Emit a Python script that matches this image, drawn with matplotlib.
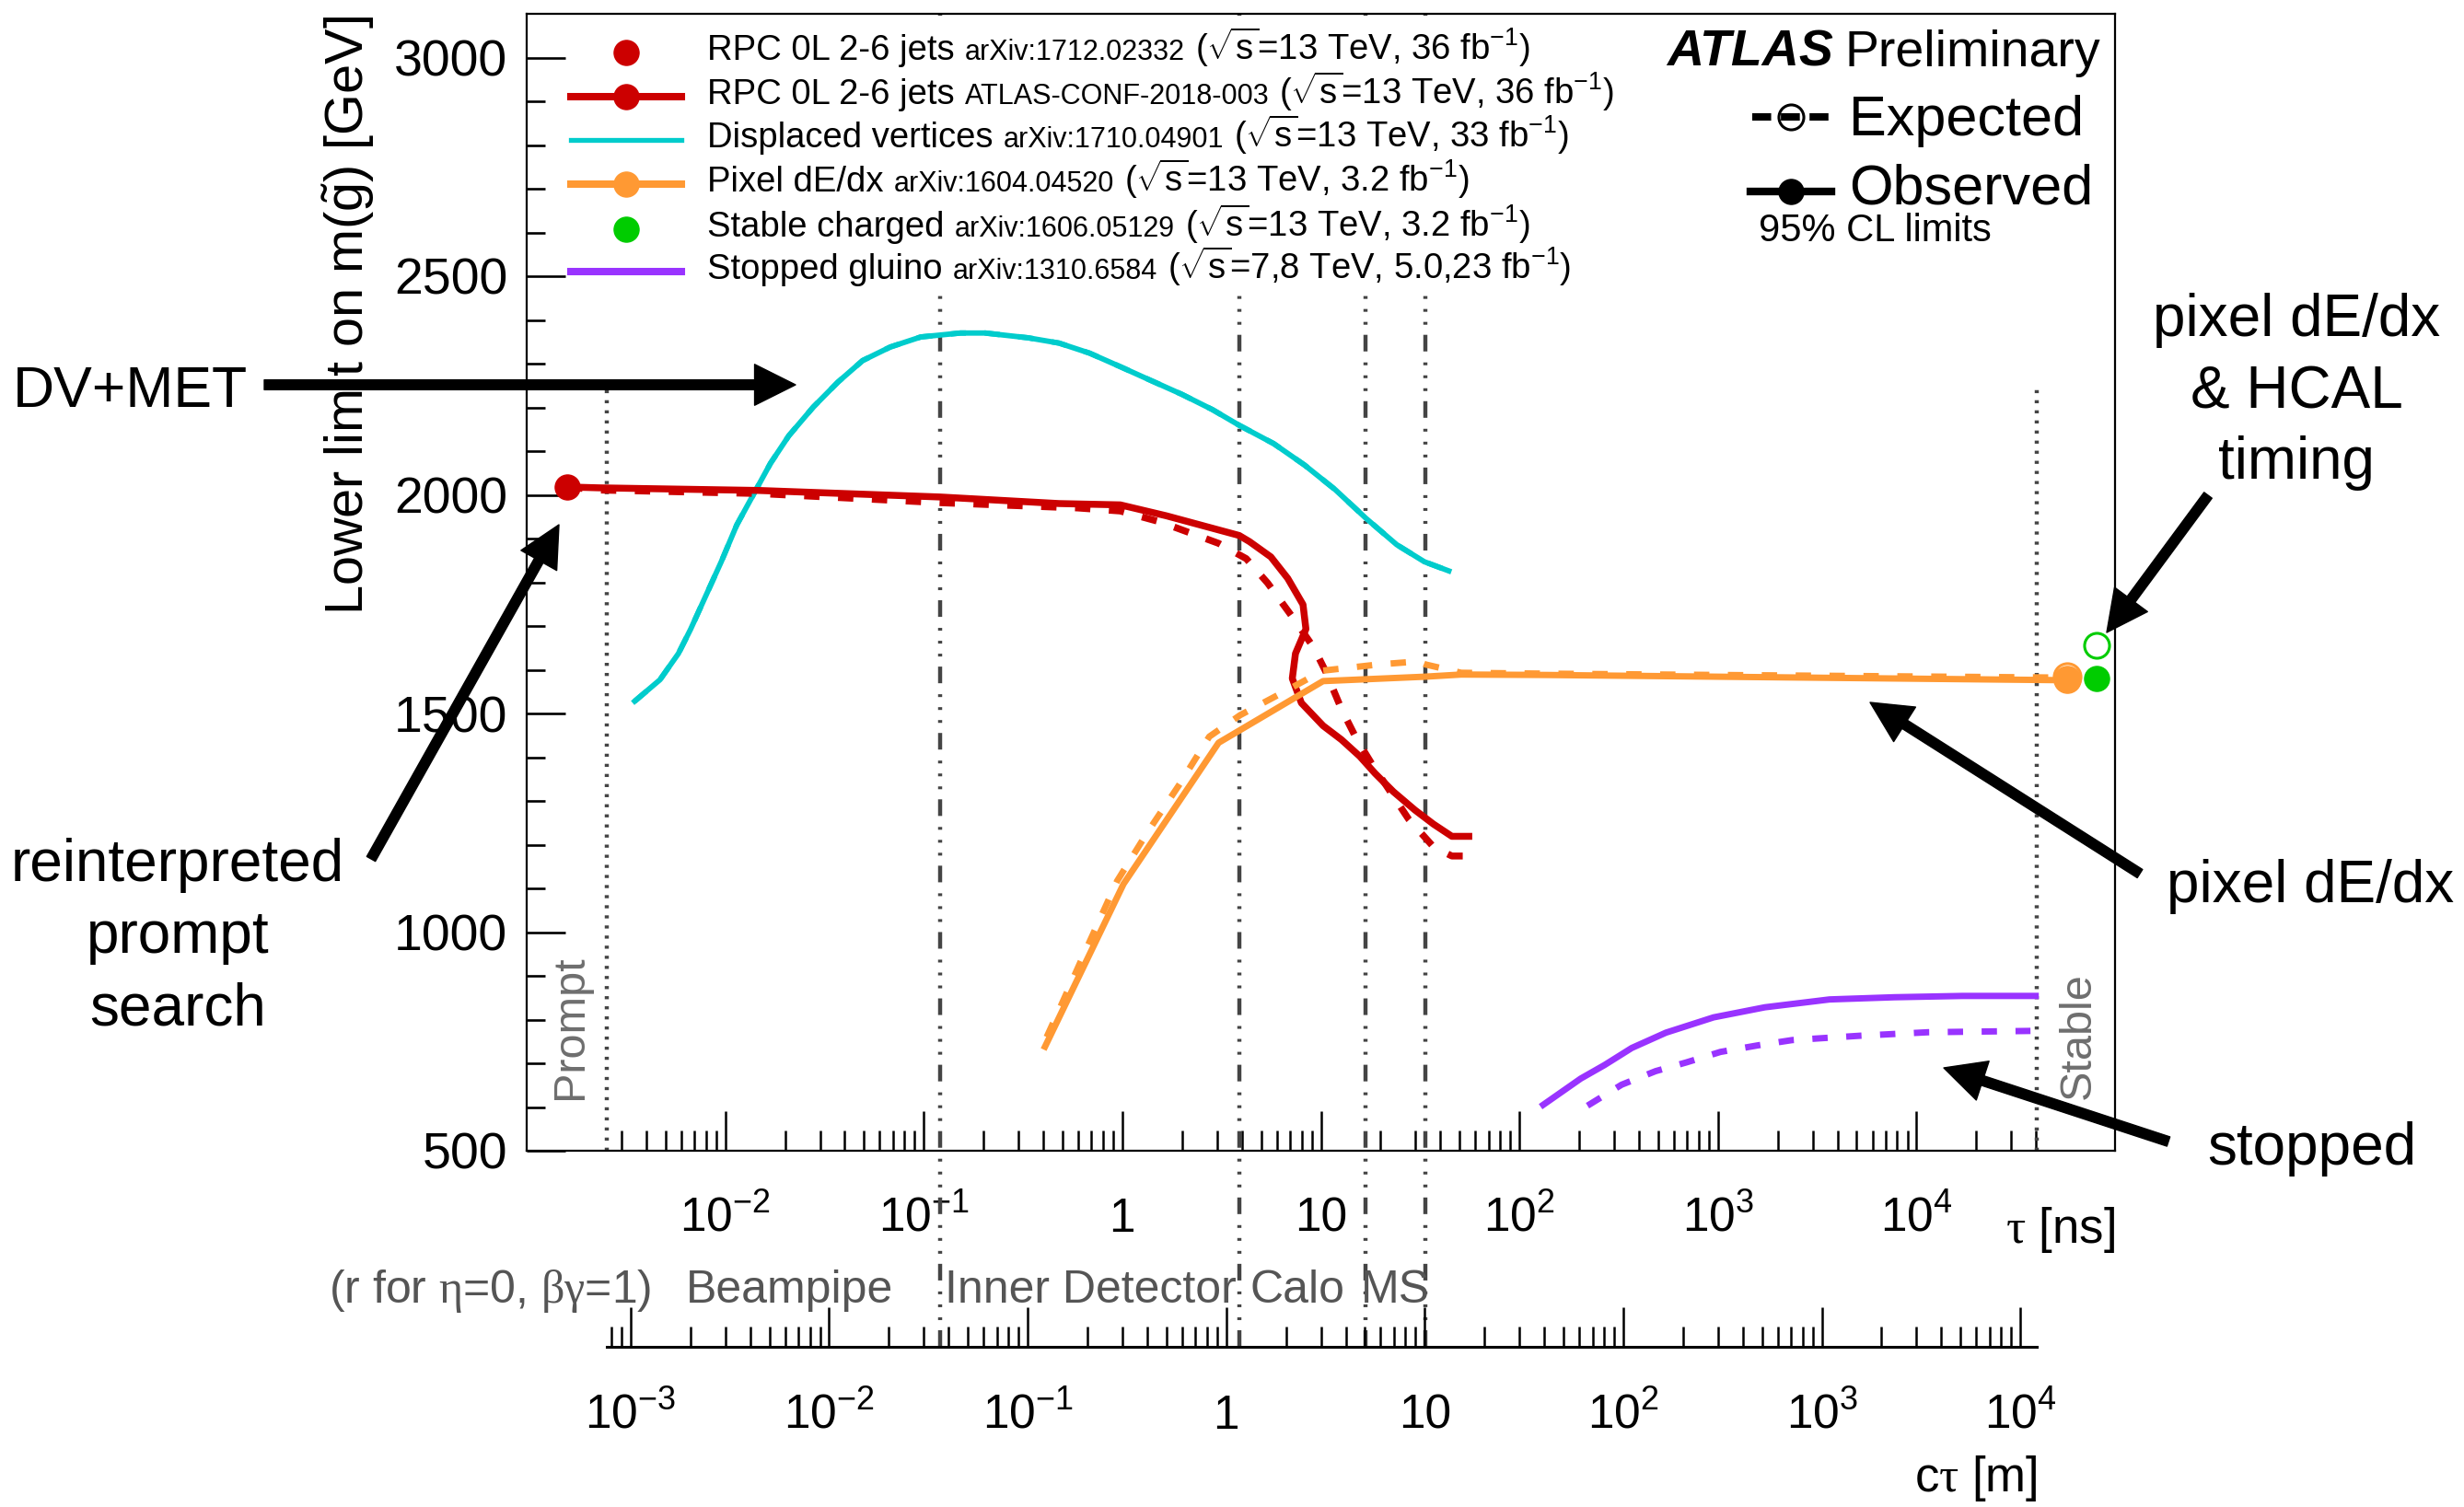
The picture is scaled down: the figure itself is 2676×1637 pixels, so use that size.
import numpy as np
import matplotlib
matplotlib.use("Agg")
import matplotlib.pyplot as plt
from matplotlib.patches import FancyArrowPatch, Rectangle
from matplotlib.lines import Line2D
from matplotlib.ticker import NullFormatter

plt.rcParams["font.family"] = ["Liberation Sans", "DejaVu Sans"]
plt.rcParams["mathtext.fontset"] = "custom"
plt.rcParams["mathtext.rm"] = "Liberation Sans"
plt.rcParams["mathtext.it"] = "Liberation Serif"   # greek letters, ROOT Symbol look
plt.rcParams["mathtext.bf"] = "Liberation Sans:bold"
plt.rcParams["lines.scale_dashes"] = False

W, H = 2676, 1637
CLIGHT = 0.29979  # m per ns

# ---------------- data: tau [ns], mass [GeV] ----------------
rpc_prompt_tau = [0.0016]
rpc_prompt_mass = [2018]

rpc_obs_tau = [0.0016, 0.0023, 0.0147, 0.121, 0.480, 0.977, 1.667, 3.88, 4.37, 5.60,
               6.81, 8.13, 8.41, 7.45, 7.18, 7.98, 10.26, 12.7, 15.7, 18.75,
               23.2, 29.8, 36.9, 45.7, 55.6]
rpc_obs_mass = [2018, 2016, 2010, 1995, 1980, 1977, 1952, 1907, 1893, 1858,
                1809, 1749, 1693, 1637, 1580, 1524, 1472, 1440, 1402, 1363,
                1321, 1279, 1247, 1219, 1219]
rpc_exp_tau = [0.0016, 0.0023, 0.0147, 0.121, 0.594, 0.977, 1.552, 3.055, 4.21, 5.40,
               7.18, 9.20, 10.6, 12.7, 15.2, 18.1, 22.4, 27.7, 36.9, 45.7, 55.6]
rpc_exp_mass = [2018, 2011, 2003, 1982, 1970, 1963, 1938, 1889, 1854, 1798,
                1721, 1651, 1595, 1510, 1440, 1384, 1321, 1258, 1195, 1174, 1174]

dv_tau = [0.00350, 0.00469, 0.00581, 0.00670, 0.00800, 0.00955, 0.01143, 0.01365,
          0.0169, 0.0209, 0.0278, 0.0370, 0.0492, 0.0678, 0.0966, 0.153, 0.204,
          0.336, 0.480, 0.684, 0.977, 1.40, 1.99, 2.84, 3.88, 5.79, 8.28, 11.8,
          16.9, 24.1, 33.2, 44.1]
dv_mass = [1528, 1577, 1637, 1693, 1770, 1847, 1931, 1995, 2072, 2135, 2201, 2258,
           2307, 2338, 2361, 2370, 2370, 2359, 2347, 2324, 2293, 2261, 2230, 2195,
           2159, 2117, 2068, 2012, 1946, 1886, 1847, 1826]

pix_obs_tau = [0.408, 1.014, 3.055, 10.26, 33.2, 50.9, 137.7, 56230]
pix_obs_mass = [738, 1110, 1433, 1574, 1584, 1589, 1588, 1576]
pix_exp_tau = [0.416, 0.489, 0.661, 0.942, 1.346, 1.923, 2.742, 3.917, 6.68, 10.26,
               19.45, 30.9, 33.7, 50.9, 137.7, 56230]
pix_exp_mass = [760, 830, 963, 1117, 1230, 1335, 1447, 1496, 1552, 1598,
                1612, 1619, 1612, 1593, 1591, 1582]
pix_point_tau = [57500]
pix_point_obs = [1577]
pix_point_exp = [1584]

stable_tau = [80700]
stable_obs = [1580]
stable_exp = [1656]

stop_obs_tau = [131.8, 203.7, 268.5, 368.1, 547.0, 950.6, 1722, 3648, 7727, 17020, 39810]
stop_obs_mass = [605, 665, 696, 735, 770, 805, 828, 846, 851, 854, 854]
stop_exp_tau = [220.3, 327.3, 485.3, 693.4, 1030, 1589, 2360, 5200, 11460, 37500]
stop_exp_mass = [603, 651, 682, 702, 726, 741, 753, 763, 771, 774]

# region boundaries in tau [ns]
prompt_tau = 0.00254
stable_line_tau = 40500
detector_tau = [0.121, 3.89, 16.8, 33.6]

tau_major = [1e-2, 1e-1, 1, 10, 1e2, 1e3, 1e4]
tau_labels = [r"$\mathregular{10^{-2}}$", r"$\mathregular{10^{-1}}$", "1", "10",
              r"$\mathregular{10^{2}}$", r"$\mathregular{10^{3}}$", r"$\mathregular{10^{4}}$"]
ctau_major = [1e-3, 1e-2, 1e-1, 1, 10, 1e2, 1e3, 1e4]
ctau_labels = [r"$\mathregular{10^{-3}}$", r"$\mathregular{10^{-2}}$", r"$\mathregular{10^{-1}}$",
               "1", "10", r"$\mathregular{10^{2}}$", r"$\mathregular{10^{3}}$",
               r"$\mathregular{10^{4}}$"]

legend_rows = [
    ("RPC 0L 2-6 jets", "arXiv:1712.02332", "13 TeV, 36"),
    ("RPC 0L 2-6 jets", "ATLAS-CONF-2018-003", "13 TeV, 36"),
    ("Displaced vertices", "arXiv:1710.04901", "13 TeV, 33"),
    ("Pixel dE/dx", "arXiv:1604.04520", "13 TeV, 3.2"),
    ("Stable charged", "arXiv:1606.05129", "13 TeV, 3.2"),
    ("Stopped gluino", "arXiv:1310.6584", "7,8 TeV, 5.0,23"),
]

RED = "#cc0000"
CYAN = "#00cccc"
ORANGE = "#ff9933"
GREEN = "#00cc00"
PURPLE = "#9933ff"
GREYL = "#444444"

DASH = (0, (12, 14.5))
DETLS = (0, (13, 7.9, 2.2, 7.9, 2.2, 7.9, 2.2, 8.6))
DOTLS = (0, (2.4, 5.5))


def fx(X):
    return X / W


def fy(Y):
    return 1 - Y / H


fig = plt.figure(figsize=(W / 100, H / 100), dpi=100)
renderer = fig.canvas.get_renderer()

ax = fig.add_axes([fx(572), fy(1250), (2297 - 572) / W, (1250 - 15) / H])
ax.set_xscale("log")
ax.set_xlim(1e-3, 1e5)
ax.set_ylim(500, 3100)
for s in ax.spines.values():
    s.set_linewidth(1.6)

# x ticks only between prompt and stable lines
minor = []
for e in range(-3, 5):
    for m in range(2, 10):
        v = m * 10.0 ** e
        if prompt_tau <= v <= stable_line_tau * 1.01:
            minor.append(v)
ax.set_xticks(tau_major, tau_labels)
ax.set_xticks(minor, minor=True)
ax.xaxis.set_minor_formatter(NullFormatter())
ax.tick_params(axis="x", which="major", direction="in", length=31, width=1.8,
               pad=63, labelsize=37, top=False)
ax.tick_params(axis="x", which="minor", direction="in", length=15.5, width=1.8, top=False)
for t in ax.xaxis.get_major_ticks():
    t.label1.set_verticalalignment("baseline")

ax.set_yticks(np.arange(500, 3001, 500))
ax.set_yticks([v for v in np.arange(600, 3100, 100) if v % 500], minor=True)
ax.tick_params(axis="y", which="major", direction="in", length=30, width=1.9,
               pad=15, labelsize=40, right=False)
ax.tick_params(axis="y", which="minor", direction="in", length=14.5, width=1.9, right=False)

# region boundary lines
for t in detector_tau:
    ax.axvline(t, ymin=-0.1725, ymax=1.0, color=GREYL, lw=3.2, ls=DETLS,
               clip_on=False, zorder=2)
for t in (prompt_tau, stable_line_tau):
    ax.axvline(t, ymin=0, ymax=0.6735, color=GREYL, lw=3.2, ls=DOTLS, zorder=2)

# curves
ax.plot(dv_tau, dv_mass, color=CYAN, lw=4.2, zorder=5)
ax.plot(dv_tau, dv_mass, color=CYAN, lw=4.2, ls=DASH, zorder=5)
ax.plot(rpc_obs_tau, rpc_obs_mass, color=RED, lw=5.4, zorder=6)
ax.plot(rpc_exp_tau, rpc_exp_mass, color=RED, lw=5.4, ls=DASH, zorder=6)
ax.plot(pix_obs_tau, pix_obs_mass, color=ORANGE, lw=5.0, zorder=6)
ax.plot(pix_exp_tau, pix_exp_mass, color=ORANGE, lw=5.0, ls=DASH, zorder=6)
ax.plot(stop_obs_tau, stop_obs_mass, color=PURPLE, lw=5.0, zorder=6)
ax.plot(stop_exp_tau, stop_exp_mass, color=PURPLE, lw=5.0, ls=DASH, zorder=6)

ax.plot(rpc_prompt_tau, rpc_prompt_mass, "o", color=RED, ms=19.5, zorder=7)
ax.plot(pix_point_tau, pix_point_obs, "o", color=ORANGE, ms=21, zorder=7)
ax.plot(pix_point_tau, pix_point_exp, "o", mfc="none", mec=ORANGE, mew=2.2, ms=21, zorder=7)
ax.plot(stable_tau, stable_obs, "o", color=GREEN, ms=19.5, zorder=7, clip_on=False)
ax.plot(stable_tau, stable_exp, "o", mfc="none", mec=GREEN, mew=2.2, ms=19.5, zorder=7,
        clip_on=False)

# second axis: c*tau in metres
ax2 = fig.add_axes([fx(572), fy(1463), (2297 - 572) / W, 0.001])
ax2.set_xscale("log")
ax2.set_xlim(1e-3 * CLIGHT, 1e5 * CLIGHT)
ax2.set_yticks([])
ax2.patch.set_visible(False)
for k in ("top", "left", "right"):
    ax2.spines[k].set_visible(False)
ax2.spines["bottom"].set_linewidth(2.2)
ax2.spines["bottom"].set_bounds(prompt_tau * CLIGHT, stable_line_tau * CLIGHT)
minor2 = []
for e in range(-4, 5):
    for m in range(2, 10):
        v = m * 10.0 ** e
        if prompt_tau * CLIGHT <= v <= stable_line_tau * CLIGHT:
            minor2.append(v)
ax2.set_xticks(ctau_major, ctau_labels)
ax2.set_xticks(minor2, minor=True)
ax2.xaxis.set_minor_formatter(NullFormatter())
ax2.tick_params(axis="x", which="major", direction="in", length=31, width=1.8,
                pad=64, labelsize=37)
ax2.tick_params(axis="x", which="minor", direction="in", length=15.5, width=1.8)
for t in ax2.xaxis.get_major_ticks():
    t.label1.set_verticalalignment("baseline")

# axis titles
fig.text(fx(379), fy(17), r"Lower limit on m($\tilde{\mathregular{g}}$) [GeV]",
         rotation=90, ha="center", va="top", fontsize=41.5)
fig.text(fx(2297), fy(1350), r"$\tau$ [ns]", ha="right", va="baseline", fontsize=38)
fig.text(fx(2213), fy(1620), r"c$\tau$ [m]", ha="right", va="baseline", fontsize=38)

GREYT = "#555555"
fig.text(fx(357), fy(1415), r"(r for $\eta$=0, $\beta\gamma$=1)", ha="left",
         va="baseline", fontsize=36, color=GREYT)
for X, s in ((745, "Beampipe"), (1026, "Inner Detector"), (1358, "Calo"), (1478, "MS")):
    fig.text(fx(X), fy(1415), s, ha="left", va="baseline", fontsize=36, color=GREYT)
fig.text(fx(619), fy(1194), "Prompt", rotation=90, ha="center", va="bottom",
         fontsize=35, color="#6e6e6e")
fig.text(fx(2257), fy(1194), "Stable", rotation=90, ha="center", va="bottom",
         fontsize=35, color="#6e6e6e")

# legend (left) with white background
ax.add_patch(Rectangle((fx(616), fy(312)), (1770 - 616) / W, (312 - 17) / H,
                       transform=fig.transFigure, facecolor="white", edgecolor="none",
                       zorder=3, clip_on=False))
row_base = [65, 113, 160, 208, 257, 303]
row_sym = [("marker", RED, 5.8), ("both", RED, 5.8), ("line", CYAN, 3.8),
           ("both", ORANGE, 5.8), ("marker", GREEN, 5.8), ("line", PURPLE, 5.8)]
for (name, ref, lumi), yb, (kind, col, lw) in zip(legend_rows, row_base, row_sym):
    yc = yb - 8.5
    if kind in ("line", "both"):
        ax.add_line(Line2D([fx(620), fx(740)], [fy(yc), fy(yc)], transform=fig.transFigure,
                           color=col, lw=lw, clip_on=False, zorder=4))
    if kind in ("marker", "both"):
        ax.add_line(Line2D([fx(680)], [fy(yc)], transform=fig.transFigure, marker="o",
                           color=col, ms=19.5, ls="none", clip_on=False, zorder=4))
    energy, lum = lumi.rsplit(", ", 1)
    pieces = [(name, 27.5),
              (ref, 22),
              (r"($\sqrt{\mathregular{s}}$=" + energy + ", " + lum +
               r" $\mathregular{fb^{-1}}$)", 27.5)]
    x = 768
    for s, size in pieces:
        t = fig.text(fx(x), fy(yb), s, fontsize=size, ha="left", va="baseline")
        x += t.get_window_extent(renderer).width + 11

# ATLAS label and expected / observed key
tp = fig.text(fx(2281), fy(72), "Preliminary", ha="right", va="baseline", fontsize=40)
wp = tp.get_window_extent(renderer).width
fig.text(fx(2281 - wp - 12), fy(72), "ATLAS", ha="right", va="baseline", fontsize=40,
         fontweight="bold", fontstyle="italic")
fig.text(fx(2008), fy(147), "Expected", ha="left", va="baseline", fontsize=44)
fig.text(fx(2008), fy(222), "Observed", ha="left", va="baseline", fontsize=44)
fig.text(fx(1910), fy(262), "95% CL limits", ha="left", va="baseline", fontsize=30)
ax.add_line(Line2D([fx(1903), fx(1986)], [fy(127), fy(127)], transform=fig.transFigure,
                   color="black", lw=5.8, ls=(0, (14.8, 7.6)), clip_on=False, zorder=4))
ax.add_line(Line2D([fx(1944.5)], [fy(127)], transform=fig.transFigure, marker="o",
                   mfc="none", mec="black", mew=2.2, ms=19.5, ls="none", clip_on=False,
                   zorder=4))
ax.add_line(Line2D([fx(1901), fx(1989)], [fy(207.5), fy(207.5)], transform=fig.transFigure,
                   color="black", lw=6, clip_on=False, zorder=4))
ax.add_line(Line2D([fx(1945)], [fy(207.5)], transform=fig.transFigure, marker="o",
                   color="black", ms=19.5, ls="none", clip_on=False, zorder=4))

# presentation annotations with arrows
ANN = 46
fig.text(fx(14), fy(442), "DV+MET", ha="left", va="baseline", fontsize=45)
for s, yb in (("reinterpreted", 957), ("prompt", 1035), ("search", 1113)):
    fig.text(fx(193), fy(yb), s, ha="center", va="baseline", fontsize=ANN)
for s, yb in (("pixel dE/dx", 365), ("& HCAL", 444), ("timing", 520)):
    fig.text(fx(2494), fy(yb), s, ha="center", va="baseline", fontsize=ANN)
fig.text(fx(2509), fy(980), "pixel dE/dx", ha="center", va="baseline", fontsize=ANN)
fig.text(fx(2511), fy(1265), "stopped", ha="center", va="baseline", fontsize=ANN)

arrows = [((287, 418), (864, 418)),
          ((403, 933), (607, 570)),
          ((2398, 538), (2288, 687)),
          ((2324, 949), (2031, 763)),
          ((2355, 1240), (2111, 1160))]
for (x0, y0), (x1, y1) in arrows:
    fig.add_artist(FancyArrowPatch((fx(x0), fy(y0)), (fx(x1), fy(y1)),
                                   transform=fig.transFigure,
                                   arrowstyle="simple,head_length=1,head_width=1,tail_width=0.24",
                                   mutation_scale=32, color="black", shrinkA=0, shrinkB=0))

fig.savefig("out.png", dpi=100)
